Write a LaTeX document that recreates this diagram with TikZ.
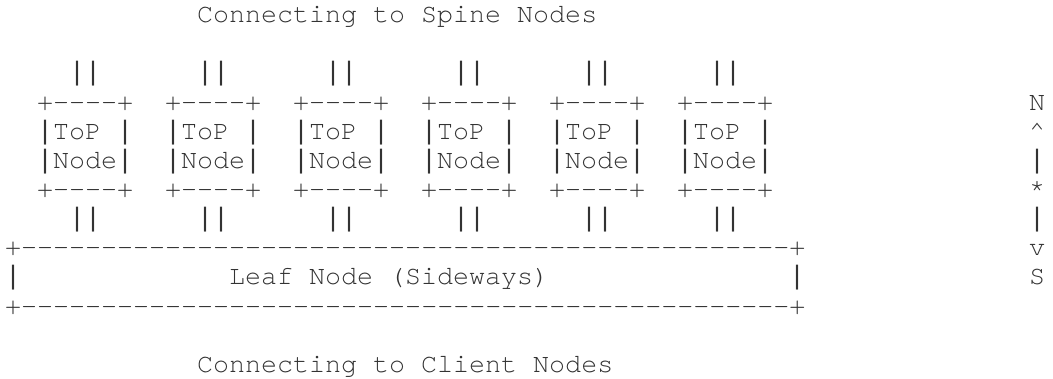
\documentclass[tikz,border=0pt]{standalone}
\usepackage{fontspec}
\newfontfamily\monofam{texgyrecursor-regular.otf}[Ligatures=TeXOff]
\newfontfamily\barfam{Liberation Mono}
\newcommand\asciifont{\monofam\fontsize{26.67bp}{29.15bp}\selectfont}
\newcommand\vb{{\barfam\fontsize{26.67bp}{29.15bp}\selectfont|}}

\begin{document}
\begin{tikzpicture}[x=16bp, y=-29.15bp,
  ascii/.style={font=\asciifont, inner sep=0pt, anchor=base west, text=black!80}]

  % ===== 枠 =====
  \useasboundingbox (0bp,0bp) rectangle (1053bp,-379bp);

  \begin{scope}[shift={(5bp,-22.575bp)}]

  % ===== 見出し =====
  \node[ascii] (spine) at (12,0) {Connecting to Spine Nodes};

  % ===== ToP Node =====
  \foreach \k in {0,...,5} {
    \node[ascii] (up\k)   at (4+8*\k,2) {\vb\vb};
    \node[ascii] (boxt\k) at (2+8*\k,3) {+----+};
    \node[ascii] (top\k)  at (2+8*\k,4) {\vb ToP \vb};
    \node[ascii] (nd\k)   at (2+8*\k,5) {\vb Node\vb};
    \node[ascii] (boxb\k) at (2+8*\k,6) {+----+};
    \node[ascii] (down\k) at (4+8*\k,7) {\vb\vb};
  }

  % ===== Leaf Node =====
  \node[ascii] (leaft) at (0,8) {+------------------------------------------------+};
  \node[ascii] (leafl) at (0,9) {\vb};
  \node[ascii] (leaf)  at (14,9) {Leaf Node (Sideways)};
  \node[ascii] (leafr) at (49,9) {\vb};
  \node[ascii] (leafb) at (0,10) {+------------------------------------------------+};

  % ---- 下の見出し ----
  \node[ascii] (client) at (12,12) {Connecting to Client Nodes};

  % ===== 方位 N/S =====
  \node[ascii] (north) at (64,3) {N};
  \node[ascii] (nup)   at (64,4) {\textasciicircum};
  \node[ascii] (nbar)  at (64,5) {\vb};
  \node[ascii] (mid)   at (64,6) {*};
  \node[ascii] (sbar)  at (64,7) {\vb};
  \node[ascii] (sdown) at (64,8) {v};
  \node[ascii] (south) at (64,9) {S};

  \end{scope}

\end{tikzpicture}
\end{document}
